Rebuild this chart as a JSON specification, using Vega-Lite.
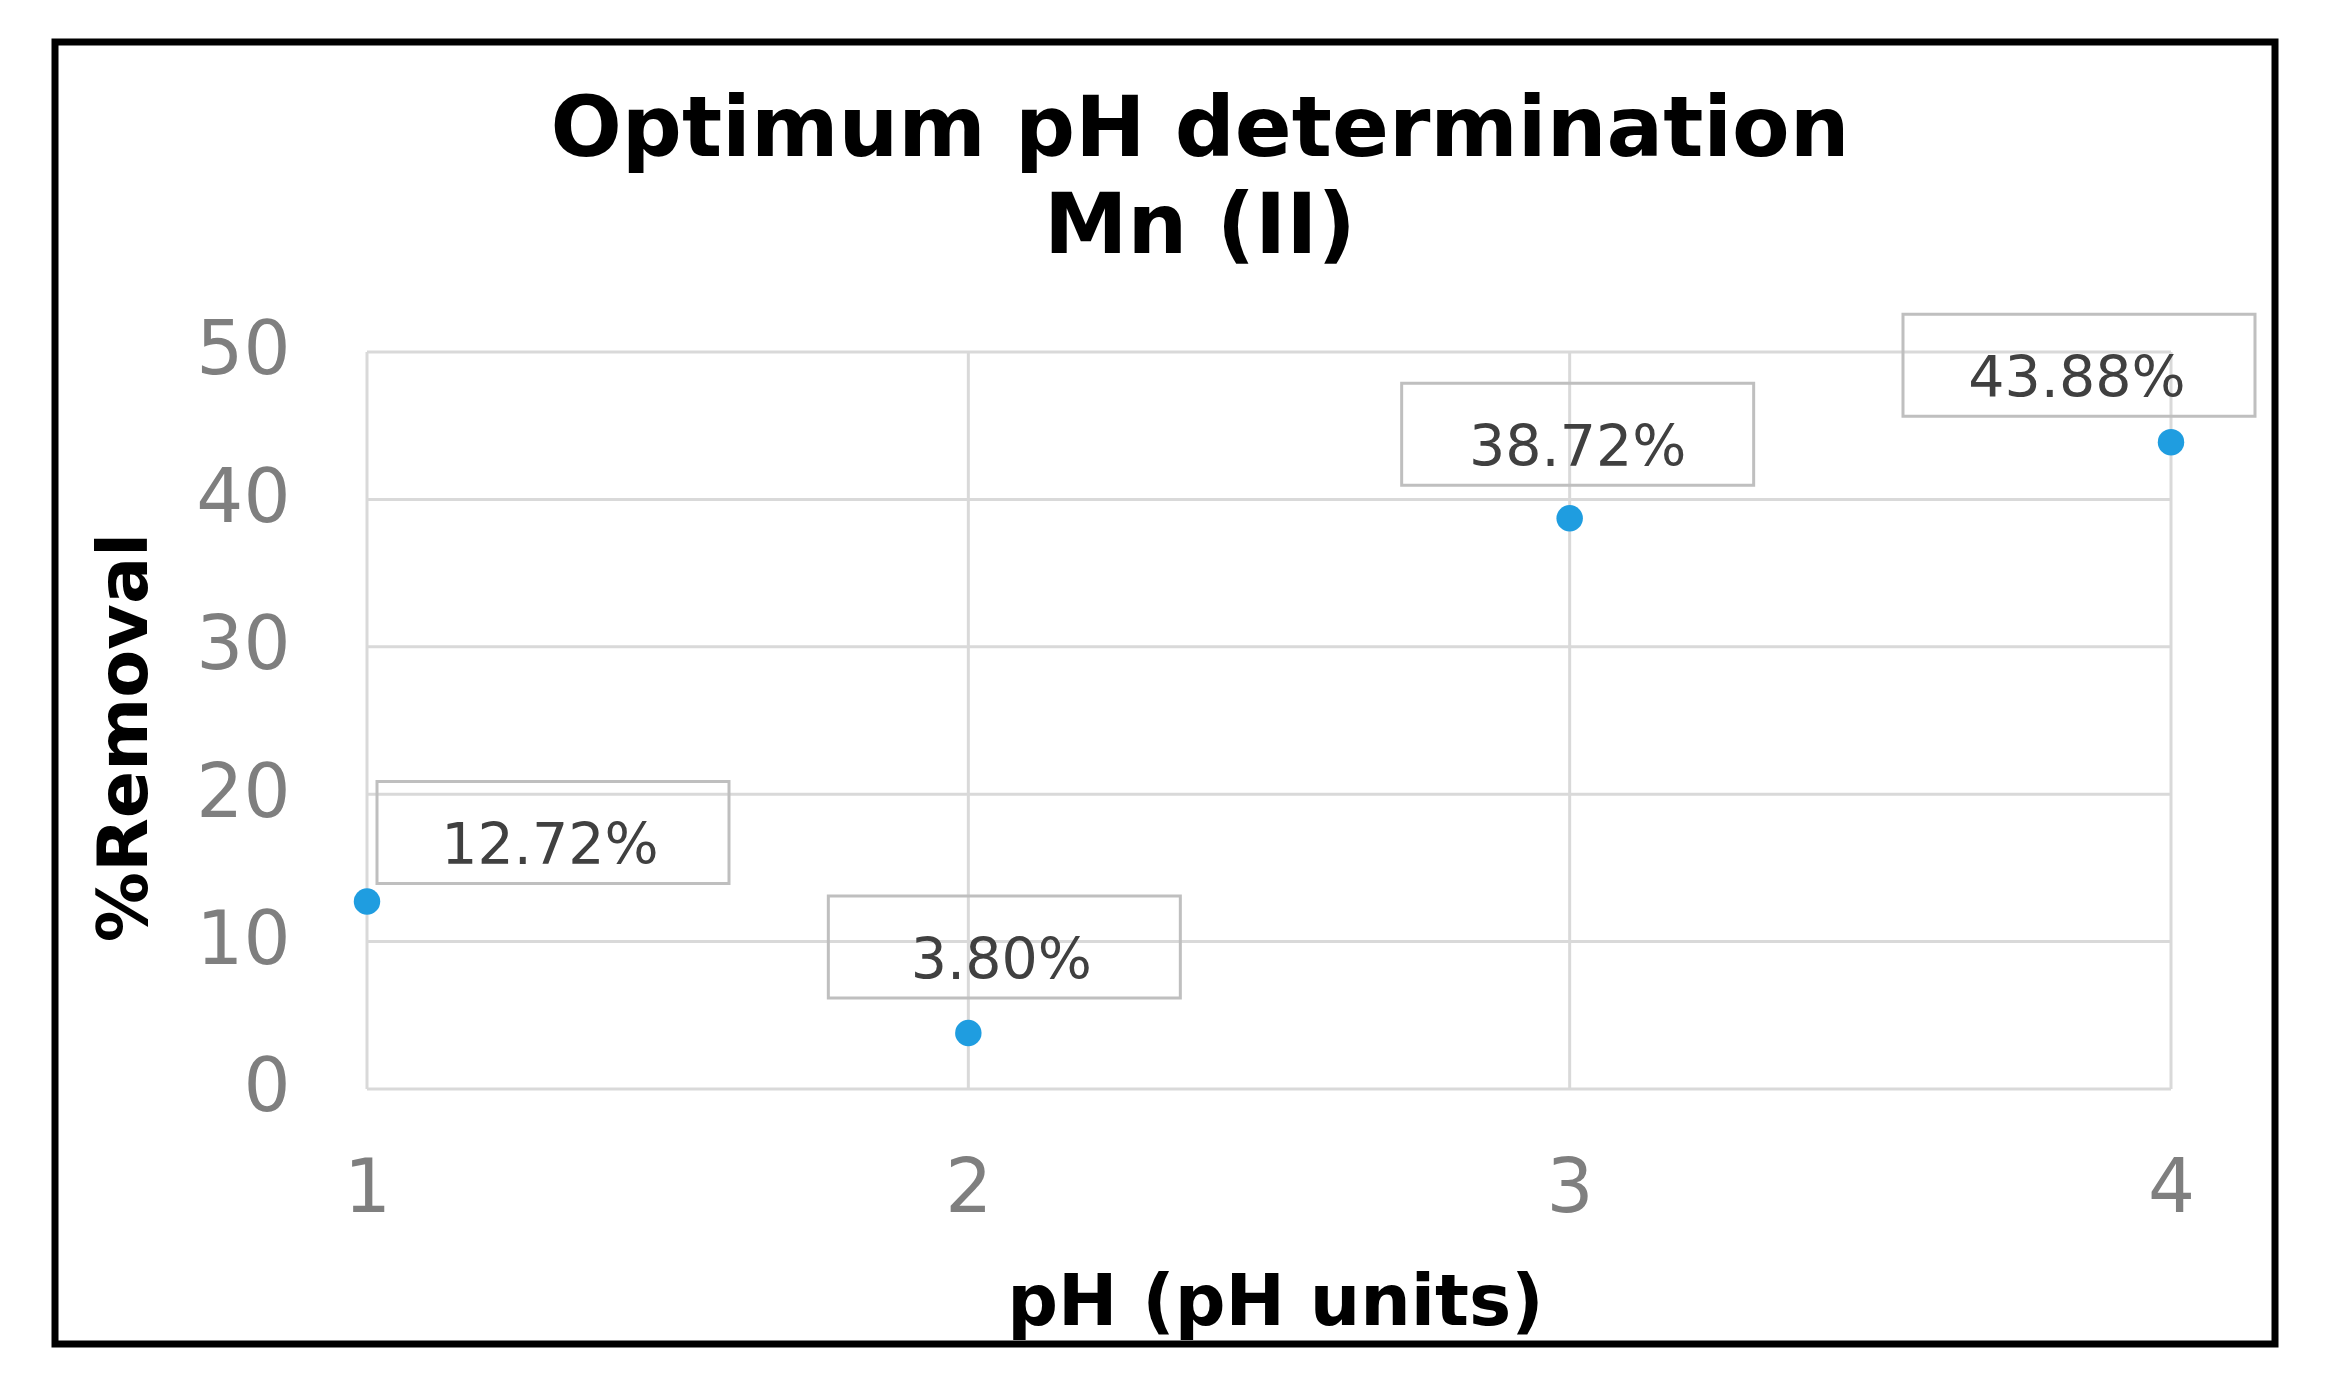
{
  "$schema": "https://vega.github.io/schema/vega-lite/v6.json",
  "width": 2220,
  "height": 1302,
  "autosize": {"type": "none"},
  "padding": {"left": 55, "top": 42, "right": 55, "bottom": 45},
  "background": "white",
  "config": {"view": {"stroke": "black", "strokeWidth": 7}, "font": "DejaVu Sans"},
  "title": {
    "text": ["Optimum pH determination", "Mn (II)"],
    "fontSize": 84,
    "fontWeight": "bold",
    "color": "black",
    "font": "DejaVu Sans",
    "lineHeight": 97,
    "anchor": "middle",
    "dx": 35,
    "offset": -313,
    "baseline": "bottom"
  },
  "datasets": {
    "removal": [
      {"ph": 1, "removal": 12.72, "label": "12.72%"},
      {"ph": 2, "removal": 3.8, "label": "3.80%"},
      {"ph": 3, "removal": 38.72, "label": "38.72%"},
      {"ph": 4, "removal": 43.88, "label": "43.88%"}
    ],
    "yticks": [{"v": 0}, {"v": 10}, {"v": 20}, {"v": 30}, {"v": 40}, {"v": 50}]
  },
  "data": {"name": "removal"},
  "layer": [
    {
      "data": {"name": "yticks"},
      "mark": {"type": "rule", "color": "#d9d9d9", "strokeWidth": 3},
      "encoding": {
        "y": {"field": "v", "type": "quantitative", "title": "%Removal", "scale": {"domain": [-17.3, 71.031], "nice": false, "zero": false}},
        "x": {"datum": 1, "type": "quantitative", "scale": {"domain": [0.48115, 4.17295], "nice": false, "zero": false}},
        "x2": {"datum": 4}
      }
    },
    {
      "mark": {"type": "rule", "color": "#d9d9d9", "strokeWidth": 3},
      "encoding": {
        "x": {"field": "ph", "type": "quantitative", "title": "pH (pH units)", "scale": {"domain": [0.48115, 4.17295], "nice": false, "zero": false}},
        "y": {"datum": 0, "type": "quantitative", "scale": {"domain": [-17.3, 71.031], "nice": false, "zero": false}},
        "y2": {"datum": 50}
      }
    },
    {
      "mark": {"type": "point", "shape": "circle", "filled": true, "size": 700, "color": "#1f9de0", "opacity": 1},
      "encoding": {
        "x": {
          "field": "ph",
          "type": "quantitative",
          "title": "pH (pH units)",
          "scale": {"domain": [0.48115, 4.17295], "nice": false, "zero": false},
          "axis": {
            "title": "pH (pH units)",
            "values": [1, 2, 3, 4],
            "format": "d",
            "offset": -255,
            "grid": false,
            "domain": false,
            "ticks": false,
            "labelFlush": false,
            "labelFontSize": 74,
            "labelColor": "#7f7f7f",
            "labelFont": "DejaVu Sans",
            "labelPadding": 64,
            "titleFontSize": 71,
            "titleFontWeight": "bold",
            "titleColor": "black",
            "titleFont": "DejaVu Sans",
            "titlePadding": 42,
            "titleX": 1220
          }
        },
        "y": {
          "field": "removal",
          "type": "quantitative",
          "title": "%Removal",
          "scale": {"domain": [-17.3, 71.031], "nice": false, "zero": false},
          "axis": {
            "title": "%Removal",
            "values": [0, 10, 20, 30, 40, 50],
            "offset": -312,
            "grid": false,
            "domain": false,
            "ticks": false,
            "labelFlush": false,
            "labelFontSize": 74,
            "labelColor": "#7f7f7f",
            "labelFont": "DejaVu Sans",
            "labelPadding": 77,
            "titleFontSize": 70,
            "titleFontWeight": "bold",
            "titleColor": "black",
            "titleFont": "DejaVu Sans",
            "titlePadding": 34,
            "titleY": 695
          }
        }
      }
    },
    {
      "transform": [{"filter": "datum.ph == 1"}],
      "mark": {"type": "point", "shape": "M-1,-0.29L1,-0.29L1,0.29L-1,0.29Z", "size": 123904, "filled": false, "stroke": "#bfbfbf", "strokeWidth": 3, "opacity": 1, "xOffset": 186, "yOffset": -69},
      "encoding": {
        "x": {"field": "ph", "type": "quantitative", "title": "pH (pH units)", "scale": {"domain": [0.48115, 4.17295], "nice": false, "zero": false}},
        "y": {"field": "removal", "type": "quantitative", "title": "%Removal", "scale": {"domain": [-17.3, 71.031], "nice": false, "zero": false}}
      }
    },
    {
      "transform": [{"filter": "datum.ph == 2"}],
      "mark": {"type": "point", "shape": "M-1,-0.29L1,-0.29L1,0.29L-1,0.29Z", "size": 123904, "filled": false, "stroke": "#bfbfbf", "strokeWidth": 3, "opacity": 1, "xOffset": 36, "yOffset": -86},
      "encoding": {
        "x": {"field": "ph", "type": "quantitative", "title": "pH (pH units)", "scale": {"domain": [0.48115, 4.17295], "nice": false, "zero": false}},
        "y": {"field": "removal", "type": "quantitative", "title": "%Removal", "scale": {"domain": [-17.3, 71.031], "nice": false, "zero": false}}
      }
    },
    {
      "transform": [{"filter": "datum.ph == 3"}],
      "mark": {"type": "point", "shape": "M-1,-0.29L1,-0.29L1,0.29L-1,0.29Z", "size": 123904, "filled": false, "stroke": "#bfbfbf", "strokeWidth": 3, "opacity": 1, "xOffset": 8, "yOffset": -84},
      "encoding": {
        "x": {"field": "ph", "type": "quantitative", "title": "pH (pH units)", "scale": {"domain": [0.48115, 4.17295], "nice": false, "zero": false}},
        "y": {"field": "removal", "type": "quantitative", "title": "%Removal", "scale": {"domain": [-17.3, 71.031], "nice": false, "zero": false}}
      }
    },
    {
      "transform": [{"filter": "datum.ph == 4"}],
      "mark": {"type": "point", "shape": "M-1,-0.29L1,-0.29L1,0.29L-1,0.29Z", "size": 123904, "filled": false, "stroke": "#bfbfbf", "strokeWidth": 3, "opacity": 1, "xOffset": -92, "yOffset": -77},
      "encoding": {
        "x": {"field": "ph", "type": "quantitative", "title": "pH (pH units)", "scale": {"domain": [0.48115, 4.17295], "nice": false, "zero": false}},
        "y": {"field": "removal", "type": "quantitative", "title": "%Removal", "scale": {"domain": [-17.3, 71.031], "nice": false, "zero": false}}
      }
    },
    {
      "transform": [{"filter": "datum.ph == 1"}],
      "mark": {"type": "text", "fontSize": 57, "color": "#404040", "font": "DejaVu Sans", "align": "center", "baseline": "middle", "dx": 183, "dy": -55},
      "encoding": {
        "x": {"field": "ph", "type": "quantitative", "title": "pH (pH units)", "scale": {"domain": [0.48115, 4.17295], "nice": false, "zero": false}},
        "y": {"field": "removal", "type": "quantitative", "title": "%Removal", "scale": {"domain": [-17.3, 71.031], "nice": false, "zero": false}},
        "text": {"field": "label"}
      }
    },
    {
      "transform": [{"filter": "datum.ph == 2"}],
      "mark": {"type": "text", "fontSize": 57, "color": "#404040", "font": "DejaVu Sans", "align": "center", "baseline": "middle", "dx": 33, "dy": -71},
      "encoding": {
        "x": {"field": "ph", "type": "quantitative", "title": "pH (pH units)", "scale": {"domain": [0.48115, 4.17295], "nice": false, "zero": false}},
        "y": {"field": "removal", "type": "quantitative", "title": "%Removal", "scale": {"domain": [-17.3, 71.031], "nice": false, "zero": false}},
        "text": {"field": "label"}
      }
    },
    {
      "transform": [{"filter": "datum.ph == 3"}],
      "mark": {"type": "text", "fontSize": 57, "color": "#404040", "font": "DejaVu Sans", "align": "center", "baseline": "middle", "dx": 8, "dy": -69},
      "encoding": {
        "x": {"field": "ph", "type": "quantitative", "title": "pH (pH units)", "scale": {"domain": [0.48115, 4.17295], "nice": false, "zero": false}},
        "y": {"field": "removal", "type": "quantitative", "title": "%Removal", "scale": {"domain": [-17.3, 71.031], "nice": false, "zero": false}},
        "text": {"field": "label"}
      }
    },
    {
      "transform": [{"filter": "datum.ph == 4"}],
      "mark": {"type": "text", "fontSize": 57, "color": "#404040", "font": "DejaVu Sans", "align": "center", "baseline": "middle", "dx": -94, "dy": -62},
      "encoding": {
        "x": {"field": "ph", "type": "quantitative", "title": "pH (pH units)", "scale": {"domain": [0.48115, 4.17295], "nice": false, "zero": false}},
        "y": {"field": "removal", "type": "quantitative", "title": "%Removal", "scale": {"domain": [-17.3, 71.031], "nice": false, "zero": false}},
        "text": {"field": "label"}
      }
    }
  ]
}
